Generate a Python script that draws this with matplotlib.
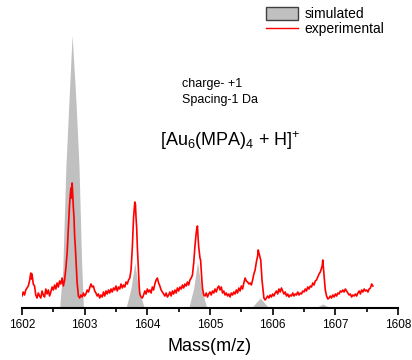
import numpy as np
import matplotlib
matplotlib.use('Agg')
import matplotlib.pyplot as plt
from matplotlib.patches import Patch
from matplotlib.lines import Line2D
from matplotlib.ticker import MultipleLocator

plt.rcParams['font.family'] = ['Liberation Sans', 'DejaVu Sans']
plt.rcParams['mathtext.fontset'] = 'custom'
plt.rcParams['mathtext.rm'] = 'Liberation Sans'
plt.rcParams['mathtext.it'] = 'Liberation Sans:italic'

# simulated isotope pattern (filled)
sim_mass = [1602.00, 1602.60, 1602.65, 1602.70, 1602.75, 1602.80, 1602.86, 1602.91, 1602.95, 1602.98,
            1603.66, 1603.74, 1603.80, 1603.86, 1603.95,
            1604.66, 1604.74, 1604.80, 1604.86, 1604.95,
            1605.66, 1605.80, 1605.94,
            1606.68, 1606.80, 1606.92, 1607.60]
sim_int = [0, 0, 38, 141, 208, 273, 208, 141, 48, 0,
           0, 20, 45, 20, 0,
           0, 20, 46, 20, 0,
           0, 10, 0,
           0, 4, 0, 0]

# experimental spectrum
exp_mass = [1602.00, 1602.02, 1602.04, 1602.06, 1602.08, 1602.10, 1602.12, 1602.14, 1602.15, 1602.16,
            1602.18, 1602.20, 1602.22, 1602.24, 1602.26, 1602.28, 1602.30, 1602.32, 1602.34, 1602.36,
            1602.38, 1602.40, 1602.42, 1602.44, 1602.46, 1602.48, 1602.50, 1602.52, 1602.54, 1602.56,
            1602.58, 1602.60, 1602.62, 1602.64, 1602.66, 1602.68, 1602.70, 1602.72, 1602.74, 1602.76,
            1602.78, 1602.79, 1602.80, 1602.81, 1602.82, 1602.83, 1602.84, 1602.85, 1602.86, 1602.87,
            1602.88, 1602.90, 1602.92, 1602.94, 1602.96, 1602.98,
            1603.00, 1603.02, 1603.04, 1603.06, 1603.08, 1603.10, 1603.12, 1603.14, 1603.16, 1603.18,
            1603.20, 1603.22, 1603.24, 1603.26, 1603.28, 1603.30, 1603.32, 1603.34, 1603.36, 1603.38,
            1603.40, 1603.42, 1603.44, 1603.46, 1603.48, 1603.50, 1603.52, 1603.54, 1603.56, 1603.58,
            1603.60, 1603.62, 1603.64, 1603.66, 1603.68, 1603.70, 1603.72, 1603.74, 1603.76, 1603.77,
            1603.78, 1603.79, 1603.80, 1603.81, 1603.82, 1603.83, 1603.84, 1603.85, 1603.86, 1603.87,
            1603.88, 1603.90, 1603.92, 1603.94, 1603.96, 1603.98,
            1604.00, 1604.02, 1604.04, 1604.06, 1604.08, 1604.10, 1604.12, 1604.14, 1604.16, 1604.18,
            1604.20, 1604.22, 1604.24, 1604.26, 1604.28, 1604.30, 1604.32, 1604.34, 1604.36, 1604.38,
            1604.40, 1604.42, 1604.44, 1604.46, 1604.48, 1604.50, 1604.52, 1604.54, 1604.56, 1604.58,
            1604.60, 1604.62, 1604.64, 1604.66, 1604.68, 1604.70, 1604.72, 1604.74, 1604.76, 1604.78,
            1604.79, 1604.80, 1604.81, 1604.82, 1604.83, 1604.84, 1604.85, 1604.86, 1604.87, 1604.88,
            1604.90, 1604.92, 1604.94, 1604.96, 1604.98,
            1605.00, 1605.02, 1605.04, 1605.06, 1605.08, 1605.10, 1605.12, 1605.14, 1605.16, 1605.18,
            1605.20, 1605.22, 1605.24, 1605.26, 1605.28, 1605.30, 1605.32, 1605.34, 1605.36, 1605.38,
            1605.40, 1605.42, 1605.44, 1605.46, 1605.48, 1605.50, 1605.52, 1605.54, 1605.56, 1605.58,
            1605.60, 1605.62, 1605.64, 1605.66, 1605.68, 1605.70, 1605.72, 1605.74, 1605.76, 1605.77,
            1605.78, 1605.79, 1605.80, 1605.81, 1605.82, 1605.83, 1605.84, 1605.86, 1605.88, 1605.90,
            1605.92, 1605.94, 1605.96, 1605.98,
            1606.00, 1606.02, 1606.04, 1606.06, 1606.08, 1606.10, 1606.12, 1606.14, 1606.16, 1606.18,
            1606.20, 1606.22, 1606.24, 1606.26, 1606.28, 1606.30, 1606.32, 1606.34, 1606.36, 1606.38,
            1606.40, 1606.42, 1606.44, 1606.46, 1606.48, 1606.50, 1606.52, 1606.54, 1606.56, 1606.58,
            1606.60, 1606.62, 1606.64, 1606.66, 1606.68, 1606.70, 1606.72, 1606.74, 1606.76, 1606.78,
            1606.79, 1606.80, 1606.81, 1606.82, 1606.83, 1606.84, 1606.86, 1606.88, 1606.90, 1606.92,
            1606.94, 1606.96, 1606.98,
            1607.00, 1607.02, 1607.04, 1607.06, 1607.08, 1607.10, 1607.12, 1607.14, 1607.16, 1607.18,
            1607.20, 1607.22, 1607.24, 1607.26, 1607.28, 1607.30, 1607.32, 1607.34, 1607.36, 1607.38,
            1607.40, 1607.42, 1607.44, 1607.46, 1607.48, 1607.50, 1607.52, 1607.54, 1607.56, 1607.58,
            1607.60]
exp_int = [12, 16, 13, 18, 20, 22, 27, 35, 29, 34,
           24, 22, 13, 10, 15, 12, 10, 17, 13, 11,
           19, 14, 18, 12, 16, 21, 18, 23, 19, 25,
           21, 27, 24, 30, 22, 28, 40, 55, 80, 105,
           120, 110, 125, 112, 100, 90, 72, 62, 50, 38,
           25, 12, 10, 13, 11, 15,
           12, 14, 18, 16, 20, 24, 21, 22, 17, 15,
           12, 14, 10, 13, 11, 16, 12, 17, 14, 18,
           15, 19, 16, 20, 18, 22, 17, 21, 19, 24,
           20, 23, 21, 26, 24, 28, 30, 38, 60, 75,
           90, 98, 106, 104, 90, 80, 62, 48, 35, 22,
           14, 11, 10, 13, 17, 14,
           19, 16, 18, 15, 21, 18, 24, 28, 30, 25,
           22, 18, 16, 14, 12, 15, 11, 13, 16, 12,
           17, 14, 18, 15, 20, 17, 21, 19, 23, 20,
           24, 22, 26, 23, 28, 30, 33, 45, 62, 75,
           80, 82, 70, 61, 55, 50, 48, 38, 28, 20,
           13, 12, 15, 11, 14,
           16, 13, 17, 15, 19, 16, 20, 22, 18, 21,
           15, 17, 13, 15, 12, 14, 11, 15, 13, 16,
           14, 18, 15, 20, 17, 22, 19, 25, 30, 27,
           26, 24, 25, 23, 28, 34, 38, 46, 52, 58,
           55, 53, 50, 48, 38, 28, 22, 10, 8, 10,
           12, 10, 13, 11,
           14, 12, 15, 17, 14, 19, 16, 20, 17, 14,
           16, 12, 14, 11, 13, 12, 15, 12, 14, 13,
           16, 13, 15, 14, 17, 16, 19, 17, 21, 19,
           22, 21, 25, 23, 27, 28, 31, 34, 36, 40,
           42, 48, 40, 32, 25, 18, 12, 9, 10, 12,
           10, 13, 11,
           14, 12, 15, 14, 17, 16, 18, 16, 19, 17,
           15, 13, 14, 11, 13, 12, 14, 12, 15, 17,
           14, 18, 16, 19, 17, 18, 16, 19, 20, 24,
           22]

fig = plt.figure(figsize=(4.12, 3.6), dpi=100)
ax = fig.add_axes([22/412, 52/360, 376/412, 300/360])

ax.fill_between(sim_mass, sim_int, 0, color='#c0c0c0', lw=0)
ax.plot(exp_mass, exp_int, color='#ff0000', lw=1.2)

ax.set_xlim(1602, 1608)
ax.set_ylim(0, 300)
for s in ['left', 'right', 'top']:
    ax.spines[s].set_visible(False)
ax.spines['bottom'].set_linewidth(1.5)
ax.set_yticks([])
ax.xaxis.set_major_locator(MultipleLocator(1))
ax.xaxis.set_minor_locator(MultipleLocator(0.5))
ax.tick_params(axis='x', which='major', length=5, width=1.2, labelsize=8.5, pad=3, colors='black')
ax.tick_params(axis='x', which='minor', length=3, width=1.2)
ax.xaxis.set_major_formatter(matplotlib.ticker.FormatStrFormatter('%d'))
ax.set_xlabel('Mass(m/z)', fontsize=13, labelpad=5)

ax.text(1604.56, 224, 'charge- +1', fontsize=9, va='center')
ax.text(1604.56, 208, 'Spacing-1 Da', fontsize=9, va='center')
ax.text(1604.21, 167, r'[Au$_6$(MPA)$_4$ + H]$\!^+$', fontsize=13, va='center')

handles = [Patch(facecolor='#c0c0c0', edgecolor='#404040', lw=1),
           Line2D([0], [0], color='#ff0000', lw=1)]
fig.legend(handles, ['simulated', 'experimental'], loc='upper left',
           bbox_to_anchor=(266/412, 1 - 7/360), frameon=False, fontsize=10,
           handlelength=2.3, handleheight=1.1, handletextpad=0.45,
           labelspacing=0.05, borderpad=0, borderaxespad=0)

fig.savefig('out.png', dpi=100)
